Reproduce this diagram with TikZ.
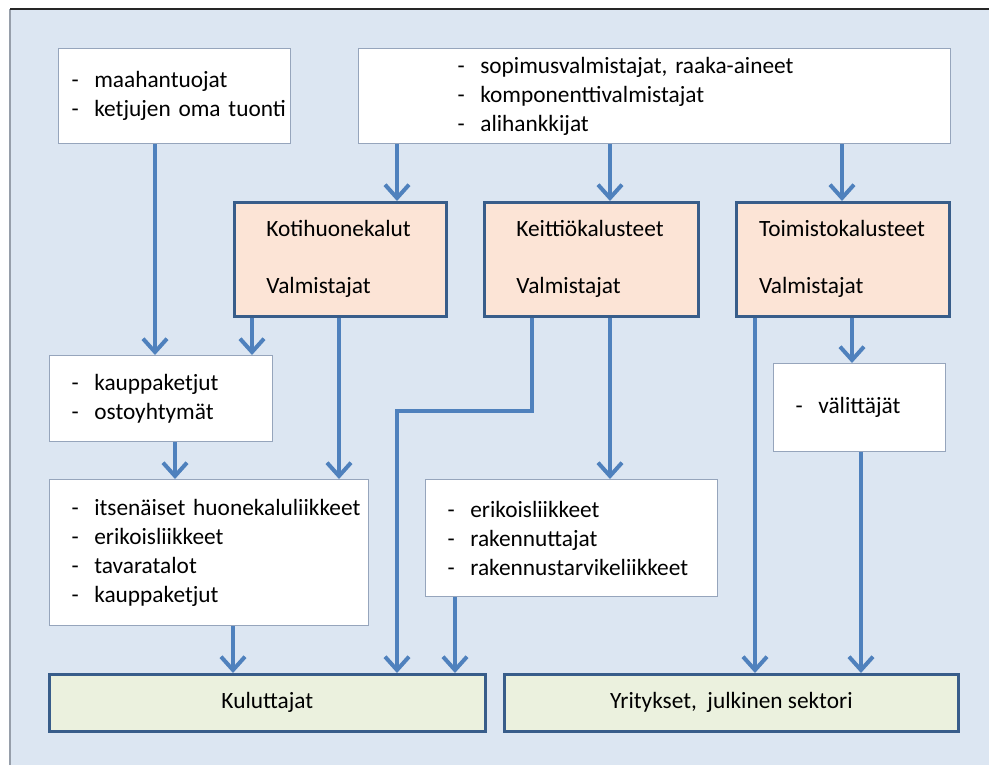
\documentclass[tikz,border=0pt]{standalone}
\usepackage{fontspec}
\setmainfont{Carlito}
\usetikzlibrary{arrows.meta}

\definecolor{bgblue}{RGB}{220,230,242}
\definecolor{framegray}{RGB}{150,158,170}
\definecolor{boxgray}{RGB}{150,165,188}
\definecolor{darkblue}{RGB}{56,93,138}
\definecolor{arrowblue}{RGB}{79,129,189}
\definecolor{peach}{RGB}{252,228,214}
\definecolor{palegreen}{RGB}{235,241,222}

\newlength\boxindent
\newcommand\itm[1]{\hspace*{\boxindent}\makebox[17pt][l]{-}#1}
\newcommand\ttl[1]{\hspace*{\boxindent}#1}

\tikzset{
  textindent/.style={execute at begin node={\setlength{\boxindent}{#1}}},
  listbox/.style={draw=boxgray, fill=white, line width=1pt, anchor=north west,
    align=left, inner xsep=0pt, inner ysep=0pt},
  makerbox/.style={draw=darkblue, fill=peach, line width=2pt, anchor=north west,
    align=left, inner xsep=0pt, inner ysep=0pt, minimum height=85.5pt},
  endbox/.style={draw=darkblue, fill=palegreen, line width=2pt, anchor=north west,
    minimum height=42.75pt},
  flow/.style={draw=arrowblue, line width=3pt, -{Straight Barb[length=10pt,width=18pt]}},
}

\begin{document}
\begin{tikzpicture}[x=0.75pt,y=0.75pt,yscale=-1,xscale=1,
  font=\fontsize{17.5pt}{21.75pt}\selectfont]
\useasboundingbox (0,0) rectangle (989,765);

%Shape: Background frame
\fill[bgblue] (10,9) rectangle (989,765);
\draw[framegray, line width=1.5pt] (10,765) -- (10,9);
\draw[black!85, line width=1.2pt] (10,9) -- (989,9);

% Suppliers
\node[listbox, textindent=9.75pt, text width=174pt, minimum height=71.25pt] (imports) at (58,48)
  {\itm{maahantuojat}\\\itm{ketjujen oma tuonti}};
\node[listbox, textindent=74.25pt, text width=444pt, minimum height=71.25pt] (suppliers) at (358,48)
  {\itm{sopimusvalmistajat, raaka-aineet}\\\itm{komponenttivalmistajat}\\\itm{alihankkijat}};

% Manufacturers
\node[makerbox, textindent=24pt, text width=159pt] (koti) at (233,201)
  {\ttl{Kotihuonekalut}\\[21pt]\ttl{Valmistajat}};
\node[makerbox, textindent=24pt, text width=160.5pt] (keittio) at (483,201)
  {\ttl{Keittiökalusteet}\\[21pt]\ttl{Valmistajat}};
\node[makerbox, textindent=17pt, text width=159.75pt] (toimisto) at (735,201)
  {\ttl{Toimistokalusteet}\\[21pt]\ttl{Valmistajat}};

% Retail
\node[listbox, textindent=16.5pt, text width=167.25pt, minimum height=64.5pt] (chains) at (49,355)
  {\itm{kauppaketjut}\\\itm{ostoyhtymät}};
\node[listbox, textindent=16.5pt, text width=239.25pt, minimum height=109.5pt] (shops) at (49,479)
  {\itm{itsenäiset huonekaluliikkeet}\\\itm{erikoisliikkeet}\\\itm{tavaratalot}\\\itm{kauppaketjut}};
\node[listbox, textindent=16.5pt, text width=219pt, minimum height=87.75pt] (special) at (425,479)
  {\itm{erikoisliikkeet}\\\itm{rakennuttajat}\\\itm{rakennustarvikeliikkeet}};
\node[listbox, textindent=16.5pt, text width=129pt, minimum height=66pt] (agents) at (773,363)
  {\itm{välittäjät}};

% Customers
\node[endbox, minimum width=327pt] (consumers) at (48,673) {Kuluttajat};
\node[endbox, minimum width=340.5pt] (business) at (503,673) {Yritykset,\ \ julkinen sektori};

\coordinate (bend) at (397,411);

%Straight Lines
\draw[flow] (imports.south -| 155,0) -- (chains.north -| 155,0);
\draw[flow] (suppliers.south -| 397,0) -- (koti.north -| 397,0);
\draw[flow] (suppliers.south -| 610,0) -- (keittio.north -| 610,0);
\draw[flow] (suppliers.south -| 842,0) -- (toimisto.north -| 842,0);
\draw[flow] (koti.south -| 252,0) -- (chains.north -| 252,0);
\draw[flow] (koti.south -| 339,0) -- (shops.north -| 339,0);
\draw[flow] (chains.south -| 175,0) -- (shops.north -| 175,0);
\draw[flow] (keittio.south -| 532,0) |- (bend) -- (consumers.north -| bend);
\draw[flow] (keittio.south -| 610,0) -- (special.north -| 610,0);
\draw[flow] (special.south -| 455,0) -- (consumers.north -| 455,0);
\draw[flow] (shops.south -| 233,0) -- (consumers.north -| 233,0);
\draw[flow] (toimisto.south -| 755,0) -- (business.north -| 755,0);
\draw[flow] (toimisto.south -| 852,0) -- (agents.north -| 852,0);
\draw[flow] (agents.south -| 861,0) -- (business.north -| 861,0);

\end{tikzpicture}
\end{document}
